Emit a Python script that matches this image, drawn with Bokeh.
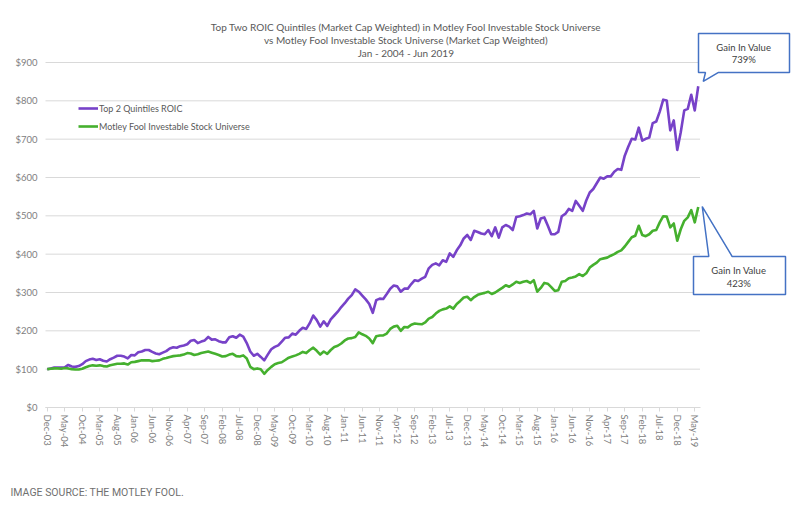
import pandas as pd
from bokeh.plotting import figure
from bokeh.models import Range1d, FixedTicker, NumeralTickFormatter, Label, Legend, LegendItem
from bokeh.embed import file_html
from bokeh.resources import INLINE

# ---------------- data ----------------
months = pd.date_range("2003-12-01", "2019-06-01", freq="MS").strftime("%b-%y").tolist()

top2_roic = [
    100, 102, 104, 104, 104, 105, 111, 107, 106, 108,
    113, 121, 125, 127, 124, 126, 122, 120, 126, 130,
    135, 135, 133, 128, 137, 136, 144, 146, 150, 150,
    145, 141, 139, 143, 147, 154, 157, 156, 160, 162,
    165, 174, 176, 168, 172, 175, 184, 177, 178, 173,
    170, 170, 183, 186, 182, 190, 185, 168, 146, 135,
    140, 132, 123, 138, 152, 158, 162, 172, 182, 183,
    193, 190, 200, 208, 205, 220, 240, 228, 211, 225,
    213, 230, 240, 250, 262, 272, 284, 293, 308, 302,
    292, 282, 270, 247, 280, 284, 283, 296, 310, 318,
    316, 302, 310, 310, 322, 332, 330, 336, 341, 363,
    372, 376, 371, 384, 380, 402, 393, 410, 423, 441,
    450, 437, 461, 458, 454, 452, 463, 447, 470, 443,
    470, 476, 472, 463, 497, 499, 502, 506, 504, 513,
    467, 493, 496, 475, 452, 452, 458, 499, 505, 518,
    513, 539, 526, 513, 540, 561, 570, 585, 600, 597,
    603, 603, 615, 622, 620, 657, 680, 701, 699, 730,
    696, 701, 704, 742, 746, 772, 803, 801, 723, 749,
    672, 718, 775, 779, 816, 775, 838,
]

universe = [
    100, 101, 102, 102, 101, 103, 102, 100, 99, 99,
    101, 105, 108, 110, 109, 110, 108, 107, 110, 112,
    114, 114, 115, 112, 118, 119, 121, 123, 123, 123,
    121, 122, 123, 127, 129, 132, 134, 135, 136, 138,
    142, 141, 137, 139, 142, 144, 146, 143, 140, 137,
    133, 134, 138, 140, 134, 133, 136, 128, 106, 100,
    102, 100, 88, 98, 106, 113, 116, 118, 124, 130,
    133, 136, 140, 145, 142, 150, 156, 148, 138, 146,
    140, 150, 158, 161, 167, 175, 180, 181, 184, 196,
    191, 187, 180, 168, 186, 188, 188, 193, 205, 211,
    213, 200, 210, 209, 216, 219, 218, 217, 222, 232,
    236, 245, 252, 256, 258, 264, 258, 270, 278, 287,
    289, 280, 288, 294, 297, 299, 302, 296, 300, 306,
    312, 319, 315, 321, 328, 325, 328, 330, 325, 332,
    302, 312, 325, 323, 314, 304, 306, 328, 330, 337,
    339, 342, 348, 343, 350, 365, 372, 378, 387, 389,
    391, 396, 400, 406, 410, 420, 432, 444, 448, 474,
    450, 447, 452, 461, 463, 483, 499, 498, 470, 480,
    435, 465, 487, 496, 515, 483, 523,
]

series_names = ["Top 2 Quintiles ROIC", "Motley Fool Investable Stock Universe"]
tick_step = 5
tick_idx = list(range(0, len(months), tick_step))
tick_labels = [months[i] for i in tick_idx]
y_ticks = [0, 100, 200, 300, 400, 500, 600, 700, 800, 900]

title_lines = [
    "Top Two ROIC Quintiles (Market Cap Weighted) in Motley Fool Investable Stock Universe",
    "vs Motley Fool Investable Stock Universe (Market Cap Weighted)",
    "Jan - 2004 - Jun 2019",
]
callout_top = ["Gain In Value", "739%"]
callout_bottom = ["Gain In Value", "423%"]
source_text = "IMAGE SOURCE: THE MOTLEY FOOL."

# ---------------- layout ----------------
W, H = 800, 507
PLOT_LEFT = 45       # px where the category area starts
PLOT_BOTTOM = 407    # px (from top) of the $0 line
PXX = 3.5            # pixels per month
PXY = 0.38333        # pixels per dollar
x_start = -0.5 - PLOT_LEFT / PXX
x_end = x_start + W / PXX
y_start = -(H - PLOT_BOTTOM) / PXY
y_end = PLOT_BOTTOM / PXY

PURPLE = "#7742C8"
GREEN = "#45B02E"
GRID = "#d9d9d9"
BLUE = "#4472C4"
FONT = "Lato"

p = figure(width=W, height=H, x_range=Range1d(x_start, x_end), y_range=Range1d(y_start, y_end),
           output_backend="svg", toolbar_location=None,
           min_border_left=0, min_border_right=0, min_border_top=0, min_border_bottom=0)
p.outline_line_color = None
p.background_fill_color = "white"
p.border_fill_color = "white"
p.xgrid.visible = False
p.ygrid.visible = False

n = len(months)
idx = list(range(n))

# horizontal gridlines across the category area only
p.segment(x0=[-0.5] * len(y_ticks), x1=[n - 0.5] * len(y_ticks), y0=y_ticks, y1=y_ticks,
          line_color=GRID, line_width=1)

r1 = p.line(idx, top2_roic, line_color=PURPLE, line_width=2.6, line_join="round")
r2 = p.line(idx, universe, line_color=GREEN, line_width=2.6, line_join="round")

# x axis (drawn at $0)
xa = p.xaxis[0]
xa.fixed_location = 0
xa.ticker = FixedTicker(ticks=tick_idx)
xa.major_label_overrides = {i: lab for i, lab in zip(tick_idx, tick_labels)}
xa.major_label_orientation = "vertical"
xa.bounds = (-0.5, n - 0.5)
xa.axis_line_color = GRID
xa.major_tick_line_color = GRID
xa.major_tick_out = 4
xa.major_tick_in = 0
xa.minor_tick_line_color = None
xa.major_label_standoff = 3
xa.major_label_text_font = FONT
xa.major_label_text_font_size = "9.5px"
xa.major_label_text_color = "#808080"

# y axis (drawn at the left edge of the category area)
ya = p.yaxis[0]
ya.fixed_location = -0.5
ya.ticker = FixedTicker(ticks=y_ticks)
ya.formatter = NumeralTickFormatter(format="$0")
ya.axis_line_color = None
ya.major_tick_line_color = None
ya.minor_tick_line_color = None
ya.major_tick_out = 0
ya.major_label_standoff = 8
ya.major_label_text_font = FONT
ya.major_label_text_font_size = "9.5px"
ya.major_label_text_color = "#808080"

# legend
legend = Legend(items=[LegendItem(label=series_names[0], renderers=[r1]),
                       LegendItem(label=series_names[1], renderers=[r2])],
                location=(78, 375), orientation="vertical",
                glyph_width=20, glyph_height=12, label_height=12, label_standoff=1,
                spacing=6, padding=0, margin=0,
                border_line_color=None, background_fill_alpha=0,
                label_text_font=FONT, label_text_font_size="9px", label_text_color="#595959")
p.add_layout(legend)

# title (screen units, y measured from the bottom of the canvas)
title_y = [H - 26, H - 39.3, H - 52.7]
for txt, ty in zip(title_lines, title_y):
    p.add_layout(Label(x=405.5, y=ty, x_units="screen", y_units="screen", text=txt,
                       text_align="center", text_baseline="middle",
                       text_font=FONT, text_font_size="10px", text_color="#595959"))

# callouts (anchored to the last data point of each series)
def dx(px):
    return px / PXX

def dy(px):  # positive px = downward on screen
    return -px / PXY

last = n - 1

def callout(anchor_y, pts_px, text_lines, text_px):
    xs = [last + dx(a) for a, b in pts_px]
    ys = [anchor_y + dy(b) for a, b in pts_px]
    p.patch(xs, ys, fill_color="white", line_color=BLUE, line_width=1.5)
    for t, (tx, ty) in zip(text_lines, text_px):
        p.add_layout(Label(x=last + dx(tx), y=anchor_y + dy(ty), text=t,
                           text_align="center", text_baseline="middle",
                           text_font=FONT, text_font_size="9.5px", text_color="#404040"))

callout(top2_roic[-1],
        [(0.25, -52.8), (91.25, -52.8), (91.25, -13.8), (20.25, -13.8),
         (5.0, -4.8), (7.25, -13.8), (0.25, -13.8)],
        callout_top, [(45.5, -39.1), (45.5, -26.8)])

callout(universe[-1],
        [(-4.75, 49.5), (10.55, 49.5), (4.0, -0.5), (33.95, 49.5),
         (87.25, 49.5), (87.25, 87.5), (-4.75, 87.5)],
        callout_bottom, [(40.5, 63.5), (40.5, 76.2)])

# source line
p.add_layout(Label(x=10, y=H - 491.5, x_units="screen", y_units="screen", text=source_text,
                   text_align="left", text_baseline="middle",
                   text_font="Roboto", text_font_size="10.5px", text_color="#707070"))

open("out.html", "w").write(file_html(p, INLINE))
